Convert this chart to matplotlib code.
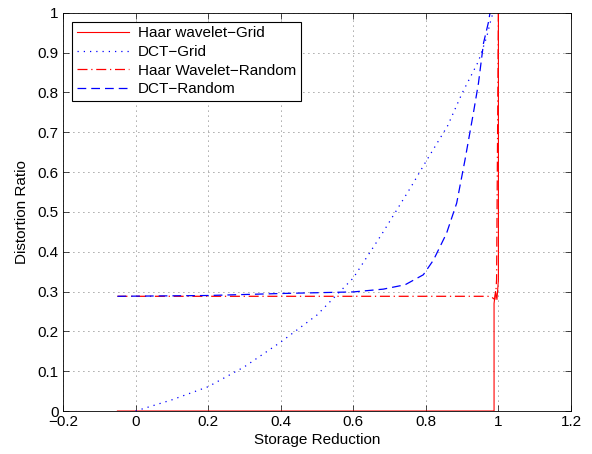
import matplotlib
matplotlib.use("Agg")
import matplotlib.pyplot as plt

plt.rcParams['font.family'] = ['Liberation Sans', 'DejaVu Sans']

# Haar wavelet - Grid (solid red)
haar_grid_x = [-0.05, 0.2, 0.4, 0.6, 0.8, 0.985, 0.988, 0.988, 0.992, 0.996, 1.0, 1.0]
haar_grid_y = [0.0, 0.0, 0.0, 0.0, 0.0, 0.0, 0.0, 0.27, 0.30, 0.28, 0.33, 1.0]

# DCT - Grid (dotted blue)
dct_grid_x = [0.0, 0.1, 0.2, 0.3, 0.4, 0.5, 0.6, 0.68, 0.76, 0.8, 0.86, 0.9, 0.945, 0.968, 0.977, 0.985]
dct_grid_y = [0.0, 0.028, 0.061, 0.111, 0.173, 0.241, 0.334, 0.446, 0.564, 0.626, 0.716, 0.798, 0.878, 0.94, 0.974, 1.0]

# Haar Wavelet - Random (dash-dot red)
haar_rand_x = [-0.05, 0.2, 0.4, 0.6, 0.8, 0.97, 0.98, 0.987, 0.99, 0.993, 0.995, 0.997, 1.0]
haar_rand_y = [0.288, 0.288, 0.288, 0.288, 0.288, 0.288, 0.287, 0.282, 0.28, 0.30, 0.33, 0.6, 1.0]

# DCT - Random (dashed blue)
dct_rand_x = [-0.05, 0.2, 0.4, 0.6, 0.683, 0.743, 0.793, 0.821, 0.857, 0.885, 0.908, 0.931, 0.945, 0.959, 0.972, 0.977]
dct_rand_y = [0.288, 0.29, 0.295, 0.299, 0.306, 0.317, 0.342, 0.379, 0.446, 0.522, 0.631, 0.748, 0.823, 0.924, 0.974, 1.0]

fig = plt.figure(figsize=(5.92, 4.54), dpi=100)
ax = fig.add_axes([0.1064, 0.0947, 0.8581, 0.8773])

ax.plot(haar_grid_x, haar_grid_y, color='red', linestyle='-', linewidth=0.8, label='Haar wavelet\u2212Grid')
ax.plot(dct_grid_x, dct_grid_y, color='blue', linestyle=(0, (1, 4)), linewidth=0.9, label='DCT\u2212Grid')
ax.plot(haar_rand_x, haar_rand_y, color='red', linestyle=(0, (8, 3, 1, 3)), linewidth=0.9, label='Haar Wavelet\u2212Random')
ax.plot(dct_rand_x, dct_rand_y, color='blue', linestyle=(0, (7, 4)), linewidth=0.9, label='DCT\u2212Random')

ax.set_xlim(-0.2, 1.2)
ax.set_ylim(0, 1)
ax.set_xticks([-0.2, 0, 0.2, 0.4, 0.6, 0.8, 1, 1.2])
ax.set_xticklabels(['\u22120.2', '0', '0.2', '0.4', '0.6', '0.8', '1', '1.2'])
ax.set_yticks([0, 0.1, 0.2, 0.3, 0.4, 0.5, 0.6, 0.7, 0.8, 0.9, 1])
ax.set_yticklabels(['0', '0.1', '0.2', '0.3', '0.4', '0.5', '0.6', '0.7', '0.8', '0.9', '1'])
ax.tick_params(direction='in', top=True, right=True, labelsize=11, length=4, width=0.5, pad=3)
ax.grid(True, linestyle=(0, (1, 5)), color='0.3', linewidth=0.6)
for s in ax.spines.values():
    s.set_linewidth(0.6)

ax.set_xlabel('Storage Reduction', fontsize=11, labelpad=3)
ax.set_ylabel('Distortion Ratio', fontsize=11, labelpad=6)

leg = ax.legend(loc='upper left', fontsize=11, handlelength=3.4, borderaxespad=0.6,
                fancybox=False, framealpha=1, edgecolor='black', labelspacing=0.3,
                borderpad=0.3, handletextpad=0.6)
leg.get_frame().set_linewidth(0.8)

fig.savefig('out.png', dpi=100)
